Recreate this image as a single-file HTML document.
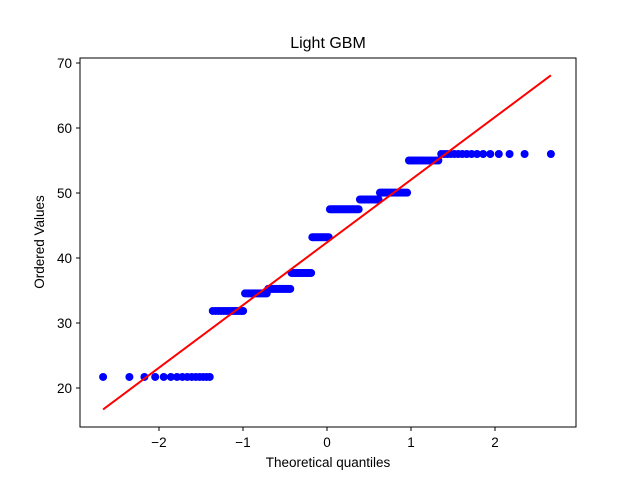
<!DOCTYPE html>
<html><head><meta charset="utf-8"><style>
body{margin:0;background:#fff}
text{font-family:"Liberation Sans","DejaVu Sans",sans-serif;fill:#000}
</style></head><body>
<svg id="chart" width="640" height="480" viewBox="0 0 640 480" xmlns="http://www.w3.org/2000/svg">
<rect width="640" height="480" fill="#fff"/>
<text x="328" y="48" text-anchor="middle" font-size="16">Light GBM</text>
<g id="plot"></g>
<rect x="80" y="58" width="496" height="369" fill="none" stroke="#000" stroke-width="1"/>
<text x="328" y="467" text-anchor="middle" font-size="13.5">Theoretical quantiles</text>
<text x="0" y="0" transform="translate(44,242) rotate(-90)" text-anchor="middle" font-size="13.5">Ordered Values</text>
</svg>
<script>
const levels = [21.7, 31.85, 34.55, 35.25, 37.7, 43.2, 47.5, 49.0, 50.05, 55.0, 56.0];
const counts = [15, 14, 14, 17, 17, 15, 25, 15, 18, 14, 16];
const xTicks = [-2, -1, 0, 1, 2];
const yTicks = [20, 30, 40, 50, 60, 70];

const NS = "http://www.w3.org/2000/svg";
const X = v => 327 + v * 84;
const Y = v => 388 - (v - 20) * 6.5;

function invNorm(p){
  const a=[-3.969683028665376e+01,2.209460984245205e+02,-2.759285104469687e+02,1.383577518672690e+02,-3.066479806614716e+01,2.506628277459239e+00];
  const b=[-5.447609879822406e+01,1.615858368580409e+02,-1.556989798598866e+02,6.680131188771972e+01,-1.328068155288572e+01];
  const c=[-7.784894002430293e-03,-3.223964580411365e-01,-2.400758277161838e+00,-2.549732539343734e+00,4.374664141464968e+00,2.938163982698783e+00];
  const d=[7.784695709041462e-03,3.224671290700398e-01,2.445134137142996e+00,3.754408661907416e+00];
  const pl=0.02425;let q,r;
  if(p<pl){q=Math.sqrt(-2*Math.log(p));return (((((c[0]*q+c[1])*q+c[2])*q+c[3])*q+c[4])*q+c[5])/((((d[0]*q+d[1])*q+d[2])*q+d[3])*q+1);}
  if(p>1-pl){q=Math.sqrt(-2*Math.log(1-p));return -(((((c[0]*q+c[1])*q+c[2])*q+c[3])*q+c[4])*q+c[5])/((((d[0]*q+d[1])*q+d[2])*q+d[3])*q+1);}
  q=p-0.5;r=q*q;return (((((a[0]*r+a[1])*r+a[2])*r+a[3])*r+a[4])*r+a[5])*q/(((((b[0]*r+b[1])*r+b[2])*r+b[3])*r+b[4])*r+1);
}

const vals=[];
levels.forEach((l,i)=>{for(let k=0;k<counts[i];k++)vals.push(l);});
const n=vals.length;
const qs=vals.map((_,i)=>{
  let m;
  if(i===n-1)m=Math.pow(0.5,1/n);
  else if(i===0)m=1-Math.pow(0.5,1/n);
  else m=(i+1-0.3175)/(n+0.365);
  return invNorm(m);
});
const mx=qs.reduce((s,v)=>s+v,0)/n, my=vals.reduce((s,v)=>s+v,0)/n;
let sxy=0,sxx=0;qs.forEach((q,i)=>{sxy+=(q-mx)*(vals[i]-my);sxx+=(q-mx)*(q-mx);});
const slope=sxy/sxx, icpt=my-slope*mx;

const g=document.getElementById('plot');
function mk(t,attrs){const e=document.createElementNS(NS,t);for(const k in attrs)e.setAttribute(k,attrs[k]);g.appendChild(e);return e;}

xTicks.forEach(t=>{
  const l=mk('line',{x1:X(t),x2:X(t),y1:427,y2:431,stroke:'#000'});
  
  
  const tx=mk('text',{x:X(t),y:447,'text-anchor':'middle','font-size':'13.5'});
  tx.textContent=(t<0?'\u2212'+(-t):t);
  
  
});
yTicks.forEach(t=>{
  const l=mk('line',{x1:76,x2:80,y1:Y(t),y2:Y(t),stroke:'#000'});
  
  
  const tx=mk('text',{x:72,y:Y(t)+5,'text-anchor':'end','font-size':'13.5'});
  tx.textContent=t;
  
  
});
qs.forEach((q,i)=>{
  const c=mk('circle',{cx:X(q),cy:Y(vals[i]),r:4,fill:'#0000ff'});
  
  
});
const x0=qs[0],x1=qs[n-1];
const ln=mk('line',{x1:X(x0),y1:Y(icpt+slope*x0),x2:X(x1),y2:Y(icpt+slope*x1),stroke:'#ff0000','stroke-width':2});


</script>
</body></html>
